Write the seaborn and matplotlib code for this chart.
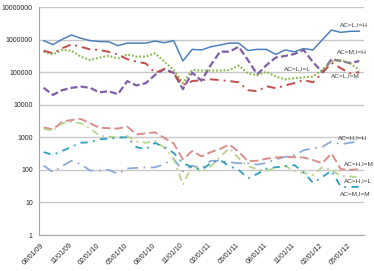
import numpy as np
import pandas as pd
import matplotlib
matplotlib.use("Agg")
import matplotlib.pyplot as plt
import matplotlib.transforms as mtransforms
import seaborn as sns

# ---------------- data ----------------
months = [f"{m:02d}/01/{y:02d}" for y, m in
          [(9, 8), (9, 9), (9, 10), (9, 11), (9, 12),
           (10, 1), (10, 2), (10, 3), (10, 4), (10, 5), (10, 6), (10, 7), (10, 8), (10, 9), (10, 10), (10, 11), (10, 12),
           (11, 1), (11, 2), (11, 3), (11, 4), (11, 5), (11, 6), (11, 7), (11, 8), (11, 9), (11, 10), (11, 11), (11, 12),
           (12, 1), (12, 2), (12, 3), (12, 4), (12, 5), (12, 6)]]

tick_labels = ["08/01/09", "11/01/09", "02/01/10", "05/01/10", "08/01/10", "11/01/10",
               "02/01/11", "05/01/11", "08/01/11", "11/01/11", "02/01/12", "05/01/12"]

y_tick_values = [1, 10, 100, 1000, 10000, 100000, 1000000, 10000000]

ac_l_i_h = [930e3, 700e3, 1.02e6, 1.38e6, 1.1e6, 930e3, 870e3, 860e3, 650e3, 780e3, 780e3, 780e3,
            900e3, 800e3, 930e3, 220e3, 500e3, 480e3, 600e3, 680e3, 780e3, 780e3, 460e3, 500e3,
            500e3, 350e3, 480e3, 420e3, 530e3, 480e3, 980e3, 1.96e6, 1.66e6, 1.8e6, 1.8e6]
ac_m_i_h = [33e3, 20e3, 28e3, 33e3, 36e3, 33e3, 24e3, 26e3, 21e3, 53e3, 39e3, 46e3,
            82e3, 125e3, 95e3, 30e3, 96e3, 55e3, 165e3, 425e3, 425e3, 600e3, 235e3, 85e3,
            165e3, 280e3, 315e3, 360e3, 480e3, 205e3, 100e3, 250e3, 220e3, 190e3, 220e3]
ac_l_i_l = [425e3, 350e3, 480e3, 455e3, 300e3, 235e3, 280e3, 315e3, 265e3, 350e3, 300e3, 300e3,
            380e3, 210e3, 117e3, 46e3, 117e3, 112e3, 112e3, 112e3, 115e3, 160e3, 92e3, 81e3,
            103e3, 73e3, 60e3, 65e3, 69e3, 73e3, 117e3, 210e3, 235e3, 185e3, 117e3]
ac_l_i_m = [455e3, 380e3, 540e3, 710e3, 600e3, 500e3, 480e3, 420e3, 350e3, 250e3, 210e3, 185e3,
            95e3, 125e3, 90e3, 40e3, 53e3, 57e3, 60e3, 57e3, 53e3, 49e3, 28e3, 26e3,
            37e3, 32e3, 39e3, 46e3, 57e3, 49e3, 92e3, 195e3, 132e3, 92e3, 100e3]
ac_h_i_h = [135, 85, 130, 190, 150, 95, 95, 100, 75, 110, 115, 118,
            120, 150, 220, 90, 135, 110, 190, 190, 170, 160, 160, 145,
            165, 210, 250, 280, 400, 460, 510, 740, 610, 680, 740]
ac_h_i_m = [2000, 1750, 3000, 3400, 3650, 2700, 1970, 1900, 1850, 2130, 1230, 1320,
            1420, 950, 650, 210, 380, 260, 350, 440, 600, 360, 185, 190,
            220, 240, 250, 245, 240, 200, 160, 320, 105, 100, 105]
ac_h_i_l = [1850, 1550, 2700, 3000, 2700, 1900, 1120, 1050, 980, 1100, 740, 680,
            760, 480, 220, 35, 140, 85, 130, 250, 460, 230, 130, 105,
            95, 115, 130, 95, 80, 70, 120, 100, 65, 62, 60]
ac_m_i_m = [350, 290, 380, 510, 680, 700, 870, 900, 980, 1000, 500, 430,
            670, 500, 330, 160, 120, 100, 160, 200, 130, 100, 55, 75,
            110, 120, 130, 140, 85, 40, 60, 95, 30, 30, 30]

series_names = ["AC=L,I=H", "AC=M,I=H", "AC=L,I=L", "AC=L,I=M",
                "AC=H,I=H", "AC=H,I=M", "AC=H,I=L", "AC=M,I=M"]
series_values = [ac_l_i_h, ac_m_i_h, ac_l_i_l, ac_l_i_m,
                 ac_h_i_h, ac_h_i_m, ac_h_i_l, ac_m_i_m]

# ---------------- styles ----------------
colors = ["#4F81BD", "#7F5FA8", "#8DB94E", "#C0504D",
          "#8EAADB", "#DA8F8C", "#B8D48A", "#2E9FBF"]
linestyles = ["-", (0, (3.2, 1.4)), (0, (0.9, 0.9)), (0, (4.5, 2.5, 1, 2.5)),
              (0, (6, 3, 1, 3)), (0, (4.5, 2)), (0, (4, 2.5, 1, 2.5)), (0, (4, 3, 1, 3))]
linewidths = [1.1, 1.6, 1.5, 1.4, 1.3, 1.4, 1.3, 1.3]
# label positions (month index, value)
label_pos = [(33.4, 2.9e6), (33.2, 4.2e5), (27.3, 1.25e5), (32.5, 7.6e4),
             (33.3, 950), (33.9, 150), (33.8, 45), (33.6, 18)]

sns.set_theme(style="white")
plt.rcParams["font.family"] = ["Liberation Sans", "DejaVu Sans"]

fig = plt.figure(figsize=(3.74, 2.71), dpi=100)
ax = fig.add_axes([39 / 374, 1 - 235 / 271, (364 - 39) / 374, (235 - 7) / 271])

x_idx = np.arange(len(months))
for name, vals, c, ls, lw in zip(series_names, series_values, colors, linestyles, linewidths):
    df = pd.DataFrame({"month": x_idx, "value": vals})
    sns.lineplot(data=df, x="month", y="value", ax=ax, color=c, linestyle=ls,
                 linewidth=lw, legend=False, estimator=None)

for name, (lx, ly) in zip(series_names, label_pos):
    ax.text(lx, ly, name, fontsize=4.6, color="#404040", ha="center", va="center")

ax.set_yscale("log")
ax.set_ylim(1, 1e7)
ax.set_xlim(-0.5, len(months) - 0.5)
ax.yaxis.set_major_locator(matplotlib.ticker.FixedLocator(y_tick_values))
ax.yaxis.set_minor_locator(matplotlib.ticker.NullLocator())
ax.set_yticklabels([str(v) for v in y_tick_values])
ax.set_xticks(np.arange(0, len(months), 3) - 0.5)
ax.set_xticklabels(tick_labels)
ax.set_xlabel("")
ax.set_ylabel("")

ax.grid(axis="y", color="#C8C8C8", linewidth=1.0)
ax.grid(axis="x", visible=False)
ax.set_axisbelow(True)
for s in ["top", "right"]:
    ax.spines[s].set_visible(False)
for s in ["left", "bottom"]:
    ax.spines[s].set_color("#A6A6A6")
    ax.spines[s].set_linewidth(0.8)

ax.tick_params(axis="y", which="major", direction="out", length=3, width=0.6,
               color="#A6A6A6", labelsize=5, labelcolor="#262626", pad=1.5)
ax.tick_params(axis="x", which="major", direction="out", length=3, width=0.6,
               color="#A6A6A6", labelsize=5, labelcolor="#262626", pad=2)
offset = mtransforms.ScaledTranslation(0.07, 0, fig.dpi_scale_trans)
for lab in ax.get_xticklabels():
    lab.set_rotation(45)
    lab.set_ha("right")
    lab.set_va("top")
    lab.set_transform(lab.get_transform() + offset)

fig.savefig("out.png", dpi=100, facecolor="white")
